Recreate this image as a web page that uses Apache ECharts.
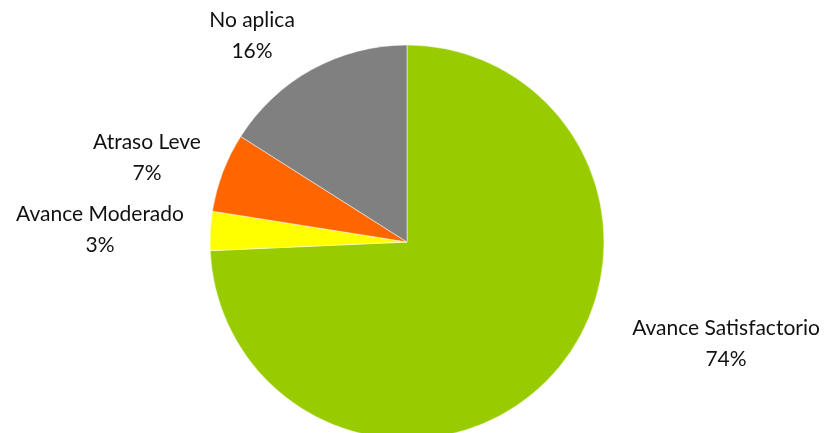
<!DOCTYPE html>
<html><head><meta charset="utf-8">
<script src="https://cdn.jsdelivr.net/npm/echarts@6/dist/echarts.min.js"></script>
<style>html,body{margin:0;padding:0;background:#fff}#c{width:828px;height:433px}</style>
</head><body><div id="c"></div>
<script>
const categories = ['Avance Satisfactorio', 'Avance Moderado', 'Atraso Leve', 'No aplica'];
const values = [74.3, 3.2, 6.5, 16.0];
const colors = ['#99CC00', '#FFFF00', '#FF6600', '#808080'];
const labelPos = [[726, 344], [100, 230], [147, 158], [252, 36]];

const chart = echarts.init(document.getElementById('c'));
const total = values.reduce((a, b) => a + b, 0);
chart.setOption({
  animation: false,
  series: [{
    type: 'pie',
    center: [407, 242],
    radius: 197,
    startAngle: 90,
    clockwise: true,
    data: categories.map((n, i) => ({ name: n, value: values[i], itemStyle: { color: colors[i] } })),
    itemStyle: { borderColor: '#fff', borderWidth: 0.5 },
    label: {
      show: true,
      position: 'outside',
      formatter: p => p.name + '\n' + Math.round(p.value / total * 100) + '%',
      fontFamily: 'Lato',
      fontSize: 21,
      color: '#111',
      lineHeight: 31,
      align: 'center',
      overflow: 'none',
      width: 300
    },
    labelLine: { show: false },
    labelLayout: p => ({ x: labelPos[p.dataIndex][0], y: labelPos[p.dataIndex][1], align: 'center', verticalAlign: 'middle' })
  }]
});
</script></body></html>
